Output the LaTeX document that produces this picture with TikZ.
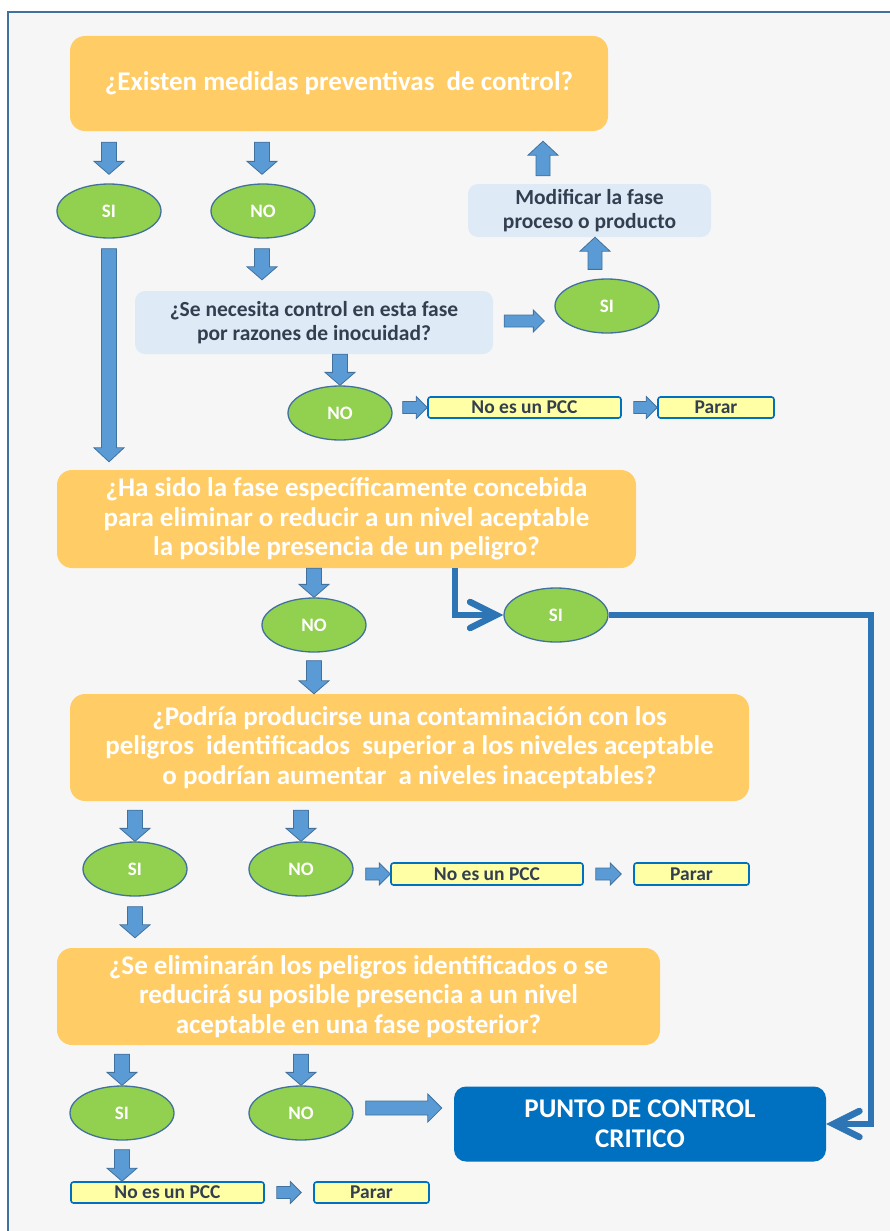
\documentclass[tikz,border=0pt]{standalone}
\usepackage{fontspec}
\setmainfont{Carlito}
\usetikzlibrary{shapes.geometric,calc,arrows.meta}

\definecolor{frameline}{HTML}{41719C}
\definecolor{pagebg}{HTML}{F6F6F6}
\definecolor{orangefill}{HTML}{FFCC66}
\definecolor{palefill}{HTML}{DEEBF7}
\definecolor{darktext}{HTML}{333F4F}
\definecolor{leafgreen}{HTML}{92D050}
\definecolor{arrowfill}{HTML}{5B9BD5}
\definecolor{pccblue}{HTML}{0070C0}
\definecolor{linkblue}{HTML}{2E75B6}
\definecolor{notefill}{HTML}{FFFFA6}

% block arrow: start, end, shaft half width, head half width, head length
\newcommand{\blockarrow}[5]{%
  \path #1 coordinate (bas) #2 coordinate (bae);
  \path ($(bae)!#5!(bas)$) coordinate (bah);
  \draw[blockstyle]
    ($(bas)!#3!90:(bae)$) -- ($(bah)!#3!90:(bae)$) -- ($(bah)!#4!90:(bae)$)
    -- (bae) -- ($(bah)!#4!-90:(bae)$) -- ($(bah)!#3!-90:(bae)$)
    -- ($(bas)!#3!-90:(bae)$) -- cycle;}
\newcommand{\bigarr}[2]{\blockarrow{#1}{#2}{7.5pt}{15pt}{13pt}}
\newcommand{\smallarr}[2]{\blockarrow{#1}{#2}{6pt}{11pt}{11pt}}

\begin{document}
\begin{tikzpicture}[x=1pt,y=-1pt,
  blockstyle/.style={fill=arrowfill,draw=frameline,line width=0.8pt,line join=miter},
  question/.style={rectangle,rounded corners=15pt,fill=orangefill,text=white,align=center,
    inner sep=0pt,font=\fontsize{27}{29.5}\selectfont\bfseries},
  palebox/.style={rectangle,rounded corners=10pt,fill=palefill,text=darktext,align=center,
    inner sep=0pt,font=\fontsize{21.5}{23.5}\selectfont\bfseries},
  answer/.style={ellipse,minimum width=104pt,minimum height=54pt,inner sep=0pt,
    fill=leafgreen,draw=frameline,line width=1.3pt,text=white,
    font=\fontsize{19}{20}\selectfont\bfseries},
  notebox/.style={rectangle,rounded corners=2.5pt,fill=notefill,draw=pccblue,line width=1.6pt,
    text=darktext,inner sep=0pt,font=\fontsize{19.5}{20}\selectfont\bfseries},
  pccbox/.style={rectangle,rounded corners=12pt,fill=pccblue,text=white,align=center,
    inner sep=0pt,font=\fontsize{27}{30}\selectfont\bfseries},
  thicklink/.style={draw=linkblue,line width=6.5pt,line join=miter,
    -{Straight Barb[length=26pt,width=26pt,line cap=round]}}
]
% page and frame
\fill[white] (0,0) rectangle (890,1231);
\useasboundingbox (0,0) rectangle (890,1231);
\fill[pagebg] (8,12) rectangle (890,1231);
\draw[frameline,line width=2.5pt] (8,1231) -- (8,12) -- (890,12);

% first question
\node[question,minimum width=538pt,minimum height=95pt] (box1) at (339,83.5)
  {¿Existen medidas preventivas~ de control?};
\node[answer] (si1) at (109,211) {SI};
\node[answer] (no1) at (263,211) {NO};
\node[palebox,minimum width=358pt,minimum height=63pt] (q2) at (314,322.5)
  {¿Se necesita control en esta fase\\por razones de inocuidad?};
\node[answer] (no2) at (340,413) {NO};
\node[notebox,minimum width=193pt,minimum height=21pt] (pcc1) at (524.5,407.5) {No es un PCC};
\node[notebox,minimum width=116pt,minimum height=21pt] (stop1) at (716,407.5) {Parar};
\node[answer] (si3) at (607,306) {SI};
\node[palebox,minimum width=243pt,minimum height=53pt] (modify) at (589.5,210.5)
  {Modificar la fase\\proceso o producto};

% second question
\node[question,minimum width=579pt,minimum height=98pt] (box2) at (346.5,519)
  {¿Ha sido la fase específicamente concebida\\para eliminar o reducir a un nivel aceptable\\la posible presencia de un peligro?};
\node[answer] (no3) at (314,625) {NO};
\node[answer] (si4) at (556,615) {SI};

% third question
\node[question,minimum width=679pt,minimum height=107pt] (box3) at (409.5,747.5)
  {¿Podría producirse una contaminación con los\\peligros~ identificados~ superior a los niveles aceptable\\o podrían aumentar~ a niveles inaceptables?};
\node[answer] (si5) at (135,869) {SI};
\node[answer] (no5) at (301,869) {NO};
\node[notebox,minimum width=192pt,minimum height=22pt] (pcc2) at (487,874) {No es un PCC};
\node[notebox,minimum width=115pt,minimum height=22pt] (stop2) at (691.5,874) {Parar};

% fourth question
\node[question,minimum width=603pt,minimum height=97pt] (box4) at (358.5,996.5)
  {¿Se eliminarán los peligros identificados o se\\reducirá su posible presencia a un nivel\\aceptable en una fase posterior?};
\node[answer] (si6) at (122,1113) {SI};
\node[answer] (no6) at (301,1113) {NO};
\node[pccbox,minimum width=372pt,minimum height=75pt] (pcc) at (640,1124)
  {PUNTO DE CONTROL\\CRITICO};
\node[notebox,minimum width=193pt,minimum height=21pt] (pcc3) at (167.5,1192.5) {No es un PCC};
\node[notebox,minimum width=115pt,minimum height=21pt] (stop3) at (371.5,1192.5) {Parar};

% block arrows
\bigarr{($(box1.south -| si1)+(0,11)$)}{($(si1.north)+(0,-9)$)}
\bigarr{($(box1.south -| no1)+(-1,11)$)}{($(no1.north)+(-1,-9)$)}
\blockarrow{($(si1.south)+(0,10)$)}{($(box2.north -| si1)+(0,-8)$)}{7.5pt}{15pt}{14pt}
\bigarr{($(no1.south)+(-1,10)$)}{($(q2.north -| no1)+(-1,-11)$)}
\bigarr{(q2.south -| no2)}{(no2.north)}
\smallarr{($(no2.east |- pcc1.west)+(10,0)$)}{(pcc1.west)}
\smallarr{($(pcc1.east)+(12,0)$)}{(stop1.west)}
\smallarr{($(q2.east)+(11,-1.5)$)}{($(si3.west |- q2.east)+(-10,-1.5)$)}
\blockarrow{($(si3.north)+(-12,-9)$)}{($(modify.south)+(5.5,0)$)}{7pt}{15pt}{14pt}
\blockarrow{($(modify.north)+(-46.5,-8)$)}{($(box1.south)+(204,10)$)}{7pt}{15pt}{14pt}
\bigarr{(box2.south -| no3)}{(no3.north)}
\bigarr{($(no3.south)+(0,8)$)}{(box3.north -| no3)}
\bigarr{($(box3.south -| si5)+(0,9)$)}{(si5.north)}
\bigarr{($(box3.south -| no5)+(0,9)$)}{(no5.north)}
\smallarr{($(no5.east |- pcc2.west)+(12,0)$)}{(pcc2.west)}
\smallarr{($(pcc2.east)+(12,0)$)}{($(stop2.west)+(-12,0)$)}
\bigarr{($(si5.south)+(0,10)$)}{($(box4.north -| si5)+(0,-10)$)}
\bigarr{($(box4.south -| si6)+(0,9)$)}{(si6.north)}
\bigarr{($(box4.south -| no6)+(0,9)$)}{(no6.north)}
\blockarrow{($(no6.east)+(12,-5)$)}{($(pcc.west)+(-12,-16)$)}{7pt}{14pt}{14pt}
\bigarr{($(si6.south)+(0,9)$)}{(pcc3.north -| si6)}
\smallarr{($(pcc3.east)+(12,0)$)}{($(stop3.west)+(-12,0)$)}

% thick connectors to the critical control point
\draw[thicklink] ($(box2.south west)+(398,0)$) |- (si4.west);
\draw[thicklink] (si4.east) -| ($(pcc.east)+(45,0)$) -- (pcc.east);
\end{tikzpicture}
\end{document}
